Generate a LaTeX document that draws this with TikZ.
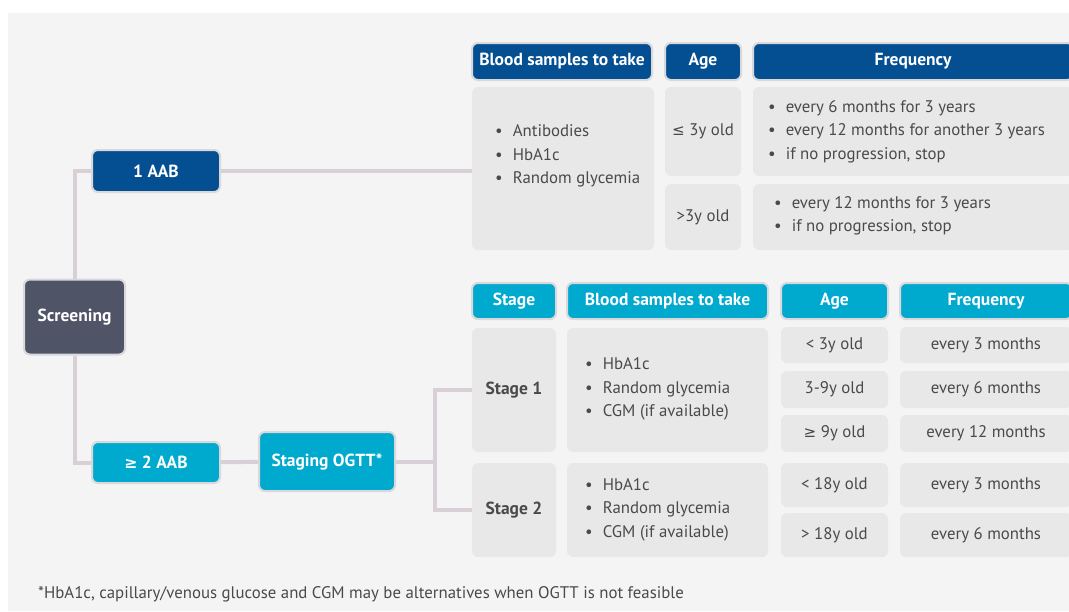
\documentclass[tikz,border=0pt]{standalone}
\usepackage{fontspec}
\setmainfont{PT Sans}
\newfontfamily\symfont[Scale=0.9]{DejaVu Sans}
\definecolor{panel}{HTML}{F4F4F4}
\definecolor{cellgray}{HTML}{E8E8E8}
\definecolor{navy}{HTML}{034F92}
\definecolor{aqua}{HTML}{00A9CE}
\definecolor{slate}{HTML}{4F5467}
\definecolor{linkgray}{HTML}{D8CFD7}
\definecolor{halo}{HTML}{D8D8DD}
\definecolor{ink}{HTML}{4A4A4A}
\newcommand{\itm}[1]{\textbullet\hspace{10pt}#1}
\newcommand{\lesym}{{\symfont ≤}}
\newcommand{\gesym}{{\symfont ≥}}

\begin{document}
\begin{tikzpicture}[x=1pt,y=-1pt,
  font=\fontsize{16.8}{23.5}\selectfont,
  flow/.style={rounded corners=6pt,draw=halo,line width=2pt,inner sep=0pt,
    text=white,font=\fontsize{17.5}{20}\selectfont\bfseries},
  cell/.style={rounded corners=6pt,fill=cellgray,inner sep=0pt,text=ink},
  stagecell/.style={cell,font=\fontsize{17.5}{20}\selectfont\bfseries},
  list/.style={anchor=west,align=left,inner sep=0pt,text=ink},
  link/.style={draw=linkgray,line width=4pt}]
\clip (0,0) rectangle (1069,611);
\fill[white] (0,0) rectangle (1069,611);
\fill[panel] (8,13) rectangle (1069,611);

% flow boxes
\node[flow,fill=slate,minimum width=101,minimum height=75] (screen) at (74.5,317) {Screening};
\node[flow,fill=navy,minimum width=128,minimum height=42] (aab1) at (156,171) {1 AAB};
\node[flow,fill=aqua,minimum width=128,minimum height=41] (aab2) at (156,462.5) {\gesym\ 2 AAB};
\node[flow,fill=aqua,minimum width=136,minimum height=59] (ogtt) at (327,461.5) {Staging OGTT*};

% table for 1 AAB
\node[flow,fill=navy,minimum width=180,minimum height=37] (hsamp1) at (562,61.5) {Blood samples to take};
\node[flow,fill=navy,minimum width=76,minimum height=37] (hage1) at (703,61.5) {Age};
\node[flow,fill=navy,minimum width=320,minimum height=37] (hfreq1) at (913,61.5) {Frequency};
\node[cell,minimum width=182,minimum height=163] (csamp1) at (563,168.5) {};
\node[list] (lsamp1) at (495,156) {\itm{Antibodies}\\\itm{HbA1c}\\\itm{Random glycemia}};
\node[cell,minimum width=76,minimum height=89] (cage1a) at (703,131.5) {\lesym\ 3y old};
\node[cell,minimum width=76,minimum height=66] (cage1b) at (703,217) {>3y old};
\node[cell,minimum width=320,minimum height=89] (cfreq1a) at (913,131.5) {};
\node[cell,minimum width=320,minimum height=66] (cfreq1b) at (913,217) {};
\node[list] (lfreq1a) at (768,131.5) {\itm{every 6 months for 3 years}\\
  \itm{every 12 months for another 3 years}\\\itm{if no progression, stop}};
\node[list] (lfreq1b) at (774,216) {\itm{every 12 months for 3 years}\\\itm{if no progression, stop}};

% table for >= 2 AAB
\node[flow,fill=aqua,minimum width=84,minimum height=36] (hstage) at (514,301) {Stage};
\node[flow,fill=aqua,minimum width=201,minimum height=36] (hsamp2) at (667.5,301) {Blood samples to take};
\node[flow,fill=aqua,minimum width=107,minimum height=36] (hage2) at (834.5,301) {Age};
\node[flow,fill=aqua,minimum width=172,minimum height=36] (hfreq2) at (986,301) {Frequency};
\node[stagecell,minimum width=84,minimum height=124] (cstage1) at (514,390) {Stage 1};
\node[stagecell,minimum width=84,minimum height=94] (cstage2) at (514,510) {Stage 2};
\node[cell,minimum width=201,minimum height=124] (csamp2a) at (667.5,390) {};
\node[cell,minimum width=201,minimum height=94] (csamp2b) at (667.5,510) {};
\node[list] (lsamp2a) at (585,389) {\itm{HbA1c}\\\itm{Random glycemia}\\\itm{CGM (if available)}};
\node[list] (lsamp2b) at (585,509.5) {\itm{HbA1c}\\\itm{Random glycemia}\\\itm{CGM (if available)}};
\foreach \y/\h/\age/\freq [count=\i] in {345/36/{< 3y old}/{every 3 months},
    389.5/37/{3-9y old}/{every 6 months}, 433.5/37/{\gesym\ 9y old}/{every 12 months},
    485/44/{< 18y old}/{every 3 months}, 535/44/{> 18y old}/{every 6 months}}{
  \node[cell,minimum width=107,minimum height=\h] (cage\i) at (834.5,\y) {\age};
  \node[cell,minimum width=172,minimum height=\h] (cfreq\i) at (986,\y) {\freq};
}

% connectors
\draw[link] (screen.north) |- (aab1.west);
\draw[link] (screen.south) |- (aab2.west);
\draw[link] (aab1.east) -- (aab1.east -| csamp1.west);
\draw[link] (aab2) -- (ogtt);
\coordinate (fork) at (435,461.5);
\draw[link] (ogtt.east) -- (fork);
\draw[link] (cstage1.west) -| (fork) |- (cstage2.west);

\node[anchor=west,inner sep=0pt,text=ink] (note) at (38,594)
  {*HbA1c, capillary/venous glucose and CGM may be alternatives when OGTT is not feasible};
\end{tikzpicture}
\end{document}
